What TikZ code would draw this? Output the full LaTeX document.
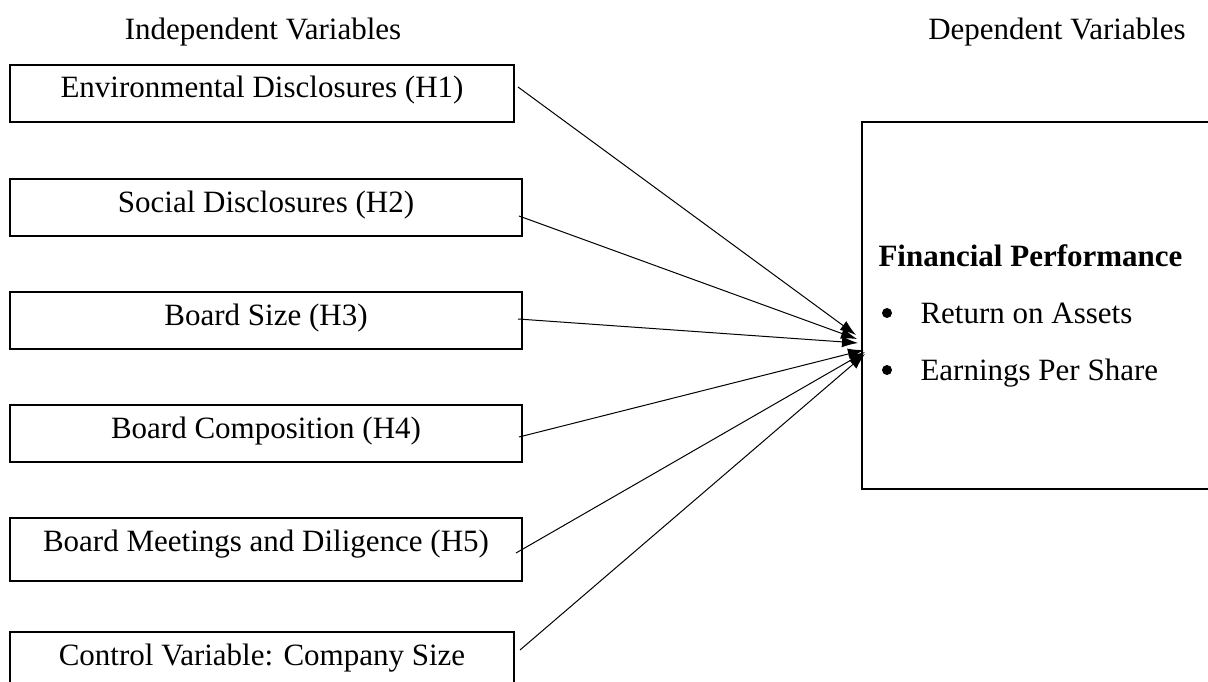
\documentclass[tikz,border=0pt]{standalone}
\usepackage{fontspec}
\setmainfont{Liberation Serif}
\usetikzlibrary{arrows.meta}
\begin{document}
\begin{tikzpicture}[x=1pt,y=-1pt,
  every node/.style={font=\fontsize{31}{37}\selectfont},
  box/.style={draw, line width=2pt, inner sep=0pt, text height=33pt, text depth=24pt, anchor=north west},
  dot/.style={circle, fill, inner sep=0pt, minimum size=10pt},
  link/.style={line width=1pt, -{Latex[length=16pt,width=11pt]}}]
  \useasboundingbox (0,0) rectangle (1208,682);
  % headings
  \node[anchor=base] (indep) at (263,40) {Independent Variables};
  \node[anchor=base] (dep) at (1057,40) {Dependent Variables};
  % independent variables
  \node[box, minimum width=504pt] (env) at (9,64) {Environmental Disclosures (H1)};
  \node[box, minimum width=512pt] (soc) at (9,178) {Social Disclosures (H2)};
  \node[box, minimum width=512pt] (bsize) at (9,291) {Board Size (H3)};
  \node[box, minimum width=512pt] (bcomp) at (9,404) {Board Composition (H4)};
  \node[box, minimum width=512pt, text depth=30pt] (bmeet) at (9,517) {Board Meetings and Diligence (H5)};
  \node[box, minimum width=504pt] (csize) at (9,631) {Control Variable: Company Size};
  % dependent variable
  \node[draw, line width=2pt, anchor=north west, minimum width=400pt, minimum height=367pt] (fp) at (861,121) {};
  \node[anchor=base west, font=\fontsize{31}{37}\selectfont\bfseries] (fptitle) at (875,266) {Financial Performance};
  \node[dot] (dot1) at (887,313) {};
  \node[anchor=base west] (roa) at (917,323) {Return on Assets};
  \node[dot] (dot2) at (887,370) {};
  \node[anchor=base west] (eps) at (917,380) {Earnings Per Share};
  % arrow ends
  \coordinate (s1) at (518,87);
  \coordinate (s2) at (519,216);
  \coordinate (s3) at (518,319);
  \coordinate (s4) at (519,437);
  \coordinate (s5) at (516,553);
  \coordinate (s6) at (520,650);
  \coordinate (t1) at (856,335);
  \coordinate (t2) at (857,339);
  \coordinate (t3) at (858,343);
  \coordinate (t4) at (864,350);
  \coordinate (t5) at (865,352);
  \coordinate (t6) at (865,354);
  \draw[link] (s1) -- (t1);
  \draw[link] (s2) -- (t2);
  \draw[link] (s3) -- (t3);
  \draw[link] (s4) -- (t4);
  \draw[link] (s5) -- (t5);
  \draw[link] (s6) -- (t6);
\end{tikzpicture}
\end{document}
